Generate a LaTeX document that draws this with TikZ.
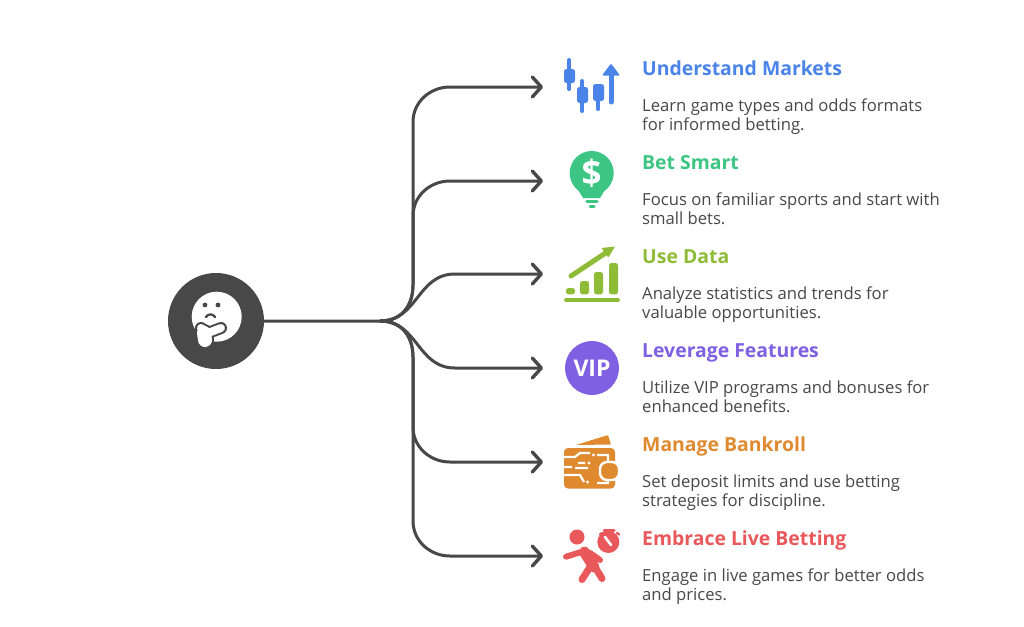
\documentclass[tikz,border=0pt]{standalone}
\usepackage{fontspec}
\setmainfont{Open Sans}
\usetikzlibrary{arrows.meta}
\definecolor{inkgray}{HTML}{484848}
\definecolor{marketblue}{HTML}{4A84E8}
\definecolor{smartgreen}{HTML}{3CC583}
\definecolor{datalime}{HTML}{8FBC36}
\definecolor{vippurple}{HTML}{7F60E2}
\definecolor{bankorange}{HTML}{E08A30}
\definecolor{livered}{HTML}{E9585A}
\tikzset{
  link/.style={draw=inkgray,line width=3pt,line join=round,-{Straight Barb[length=9pt,width=20pt,line width=3.4pt,round]}},
  heading/.style={anchor=base west,inner sep=0pt,font=\fontsize{19.4}{22}\selectfont\bfseries},
  body/.style={anchor=base west,inner sep=0pt,align=left,text=inkgray,font=\fontsize{16.65}{19}\selectfont},
}
\begin{document}
\begin{tikzpicture}[x=1pt,y=-1pt]
  \useasboundingbox (0,0) rectangle (1024,626);
  \fill[white] (0,0) rectangle (1024,626);
  % hub and arrow ends
  \node[circle,fill=inkgray,minimum size=96pt,inner sep=0pt] (hub) at (216,321) {};
  \coordinate (fork) at (380,321);
  \coordinate (upper) at (413,285);
  \coordinate (lower) at (413,357);
  \coordinate (tip1) at (543,87);
  \coordinate (tip2) at (543,181);
  \coordinate (tip3) at (543,274);
  \coordinate (tip4) at (543,368);
  \coordinate (tip5) at (543,462);
  \coordinate (tip6) at (543,556);
  % connectors
  \path[link] (hub.east) -- (fork) .. controls +(24,0) and +(0,18) .. (upper) -- (413,122) .. controls +(0,-20) and +(-20,0) .. (450,87) -- (tip1);
  \path[link] (fork) .. controls +(24,0) and +(0,18) .. (upper) -- (413,216) .. controls +(0,-20) and +(-20,0) .. (450,181) -- (tip2);
  \path[link] (fork) .. controls +(38,0) and +(-38,0) .. (455,274) -- (tip3);
  \path[link] (fork) .. controls +(38,0) and +(-38,0) .. (455,368) -- (tip4);
  \path[link] (fork) .. controls +(24,0) and +(0,-18) .. (lower) -- (413,427) .. controls +(0,20) and +(-20,0) .. (450,462) -- (tip5);
  \path[link] (fork) .. controls +(24,0) and +(0,-18) .. (lower) -- (413,521) .. controls +(0,20) and +(-20,0) .. (450,556) -- (tip6);
  % thinking face
  \fill[white] (216.7,316.7) circle (25);
  \fill[inkgray] (205,305) circle (2.4) (218,305) circle (2.4);
  \draw[inkgray,line width=2.2pt,line cap=round] (206,317) .. controls (208,313.5) and (213,313.5) .. (215,317);
  \draw[inkgray,line width=18pt,line cap=round,line join=round] (204,333) -- (205,340);
  \draw[inkgray,line width=12pt,line cap=round,line join=round] (201,328) -- (208,333) -- (221,328);
  \draw[white,line width=14pt,line cap=round] (204,333) -- (205,340);
  \draw[white,line width=8pt,line cap=round,line join=round] (201,328) -- (208,333) -- (221,328);
  % candles
  \begin{scope}[marketblue,line cap=round]
    \draw[line width=4pt] (569.3,60) -- (569.3,89) (582.3,81) -- (582.3,111) (598.3,86) -- (598.3,109);
    \draw[line width=5pt] (611,76) -- (611,102);
    \fill[rounded corners=2.5pt] (564,69) rectangle (575,83) (577,87) rectangle (588,103) (593,84) rectangle (604,101);
    \fill[rounded corners=1pt] (602,75.5) -- (620,75.5) -- (611,63.5) -- cycle;
  \end{scope}
  % dollar bulb
  \fill[smartgreen] (591.7,173) circle (22);
  \fill[smartgreen] (577,188) -- (606,188) -- (600,198) -- (583,198) -- cycle;
  \draw[smartgreen,line width=3.5pt,line cap=round] (587,201.5) -- (597,201.5);
  \draw[smartgreen,line width=3pt,line cap=round] (590,206.5) -- (594,206.5);
  \node[text=white,inner sep=0pt,font=\fontsize{35}{35}\selectfont\bfseries] (dollar) at (591.7,173) {\$};
  % rising bars
  \begin{scope}[datalime]
    \fill[rounded corners=2.5pt] (566,294.3) rectangle (575,288) (580,294.3) rectangle (589,281) (594,294.3) rectangle (603,272) (609,294.3) rectangle (618,263);
    \draw[line width=4.8pt,line cap=round] (566.5,300) -- (617.5,300);
    \draw[line width=5pt,line cap=round] (571,276) -- (607,252);
    \fill[rounded corners=.8pt] (601.5,248) -- (615,246.5) -- (608.3,257.5) -- cycle;
  \end{scope}
  % vip badge
  \node[circle,fill=vippurple,minimum size=54pt,inner sep=0pt,text=white,font=\fontsize{23}{23}\selectfont\bfseries] (vip) at (592,368) {VIP};
  % wallet
  \begin{scope}[bankorange]
    \fill[rounded corners=1pt] (576,445) -- (608,435) -- (611,444.5) -- cycle;
    \fill[rounded corners=4pt] (564,448) rectangle (615,488.5);
    \draw[white,line width=2.2pt] (563,457) -- (575,457) -- (580,453) -- (590,453) (597,455) -- (608,455) -- (608,463) (563,467) -- (572,467) (578,463) -- (585,463) (575,468) -- (588,468) (563,475) -- (580,475) -- (584,482) (597,483) -- (608,483) -- (608,478);
    \fill[white] (593.5,455) circle (1.6) (589,463) circle (1.6) (587.5,482) circle (1.6);
    \filldraw[draw=white,fill=bankorange,line width=2.4pt,rounded corners=7pt] (600,462) rectangle (619,480);
  \end{scope}
  % runner and stopwatch
  \begin{scope}[livered,line cap=round,line join=round]
    \fill (577,537) circle (7.5);
    \draw[line width=6pt] (566,556.7) -- (581,552);
    \draw[line width=6pt] (590,553) -- (600,560);
    \draw[line width=11pt] (584.5,552) -- (594,567);
    \draw[line width=7pt] (595,567) -- (602,578.5);
    \draw[line width=7pt] (590,567) -- (582,579.5);
    \fill (608.3,542) circle (11);
    \draw[line width=3pt] (604,530.5) -- (614,530.5);
    \draw[line width=2.4pt] (600,534.5) -- (602,533) (617,533) -- (619,534.5);
    \draw[white,line width=2.6pt] (605,537) -- (611,545);
  \end{scope}
  % labels
  \node[heading,text=marketblue] (title1) at (642,75.5) {Understand Markets};
  \node[body] (text1) at (642,130) {Learn game types and odds formats\\for informed betting.};
  \node[heading,text=smartgreen] (title2) at (642,169.5) {Bet Smart};
  \node[body] (text2) at (642,224) {Focus on familiar sports and start with\\small bets.};
  \node[heading,text=datalime] (title3) at (642,263.5) {Use Data};
  \node[body] (text3) at (642,318) {Analyze statistics and trends for\\valuable opportunities.};
  \node[heading,text=vippurple] (title4) at (642,357.5) {Leverage Features};
  \node[body] (text4) at (642,412) {Utilize VIP programs and bonuses for\\enhanced benefits.};
  \node[heading,text=bankorange] (title5) at (642,451.5) {Manage Bankroll};
  \node[body] (text5) at (642,506) {Set deposit limits and use betting\\strategies for discipline.};
  \node[heading,text=livered] (title6) at (642,545.5) {Embrace Live Betting};
  \node[body] (text6) at (642,600) {Engage in live games for better odds\\and prices.};
\end{tikzpicture}
\end{document}
